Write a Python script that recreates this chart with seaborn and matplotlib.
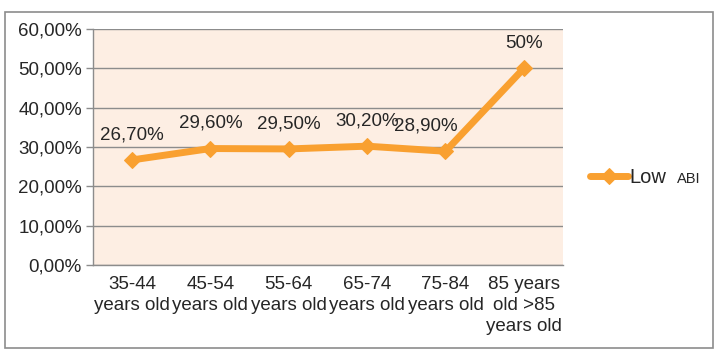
import pandas as pd
import matplotlib.pyplot as plt
import seaborn as sns
from matplotlib.patches import Rectangle

# chart values
groups = ["35-44\nyears old", "45-54\nyears old", "55-64\nyears old",
          "65-74\nyears old", "75-84\nyears old", "85 years\nold >85\nyears old"]
low_abi = [26.7, 29.6, 29.5, 30.2, 28.9, 50.0]
point_labels = ["26,70%", "29,60%", "29,50%", "30,20%", "28,90%", "50%"]
y_ticks = [0, 10, 20, 30, 40, 50, 60]
y_tick_labels = ["0,00%", "10,00%", "20,00%", "30,00%", "40,00%", "50,00%", "60,00%"]

df = pd.DataFrame({"group": groups, "value": low_abi})

sns.set_style("white")
plt.rcParams["font.family"] = ["Liberation Sans", "DejaVu Sans"]

orange = "#F9A030"
grid_col = "#8C8C8C"
fs = 13.5

fig = plt.figure(figsize=(7.2, 3.58), dpi=100)
ax = fig.add_axes([0.129, 0.26, 0.653, 0.659])
ax.set_facecolor("#FDEEE3")

sns.lineplot(data=df, x="group", y="value", ax=ax, sort=False, color=orange,
             linewidth=5, marker="D", markersize=8.5, markeredgecolor=orange,
             label="Low")

ax.set_xlim(-0.5, len(groups) - 0.5)
ax.set_ylim(0, 60)
ax.set_yticks(y_ticks)
ax.set_yticklabels(y_tick_labels, fontsize=fs)
ax.set_xticks(range(len(groups)))
ax.set_xticklabels(groups, fontsize=fs, linespacing=1.32)
ax.set_xlabel("")
ax.set_ylabel("")

# category boundary ticks
ax.set_xticks([i - 0.5 for i in range(len(groups) + 1)], minor=True)
ax.tick_params(axis="x", which="major", length=0, pad=8)
ax.tick_params(axis="x", which="minor", length=5, color=grid_col, width=1)
ax.tick_params(axis="y", length=5, color=grid_col, width=1, pad=3, left=True)

ax.yaxis.grid(True, color=grid_col, linewidth=1)
ax.set_axisbelow(True)
for s in ["top", "right"]:
    ax.spines[s].set_visible(False)
for s in ["left", "bottom"]:
    ax.spines[s].set_color(grid_col)
    ax.spines[s].set_linewidth(1)

offsets = [(0, 12), (0, 12), (0, 12), (0, 12), (-14, 12), (0, 12)]
for i, (v, lab) in enumerate(zip(low_abi, point_labels)):
    ax.annotate(lab, (i, v), xytext=offsets[i], textcoords="offset points",
                ha="center", va="bottom", fontsize=fs)

# outer chart border
fig.patches.append(Rectangle((5 / 720, 10 / 358), 708 / 720, 336 / 358,
                             transform=fig.transFigure, fill=False,
                             edgecolor="#8C8C8C", linewidth=1.2))

leg = ax.legend(loc="center left", bbox_to_anchor=(1.005, 0.37), frameon=True,
                fontsize=14.5, handlelength=1.9, handletextpad=0.1,
                borderpad=0.9, borderaxespad=0.3)
leg.get_frame().set_facecolor("white")
leg.get_frame().set_edgecolor("white")
fig.text(677 / 720, 1 - 179 / 358, "ABI", fontsize=10.5, va="center")

fig.savefig("out.png", dpi=100)
